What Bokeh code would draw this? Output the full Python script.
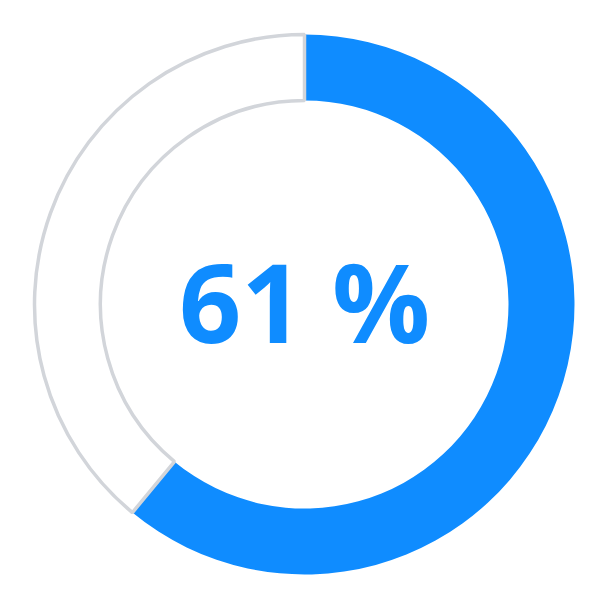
import math
from bokeh.plotting import figure
from bokeh.models import Range1d, ColumnDataSource
from bokeh.core.properties import value
from bokeh.embed import file_html
from bokeh.resources import INLINE

categories = ["Done", "Remaining"]
values = [61, 39]
colors = ["#0f8cff", "#ffffff"]
label = "61 %"

total = sum(values)
starts, ends = [], []
a = math.pi / 2
for v in values:
    span = 2 * math.pi * v / total
    # clockwise from top
    ends.append(a)
    starts.append(a - span)
    a -= span

W = 592
p = figure(width=W, height=W, output_backend="svg", toolbar_location=None,
           x_range=Range1d(-304, W - 304), y_range=Range1d(304 - W, 304),
           min_border=0, outline_line_color=None)
p.axis.visible = False
p.grid.visible = False
p.background_fill_color = "white"
p.border_fill_color = "white"

src_blue = ColumnDataSource(dict(start=[starts[0]], end=[ends[0]], color=[colors[0]]))
src_rest = ColumnDataSource(dict(start=[starts[1]], end=[ends[1]], color=[colors[1]]))

p.annular_wedge(x=0, y=0, inner_radius=204, outer_radius=270, start_angle="start",
                end_angle="end", fill_color="color", line_color=None, source=src_blue)
p.annular_wedge(x=0, y=0, inner_radius=204, outer_radius=270, start_angle="start",
                end_angle="end", fill_color="color", line_color="#d2d5da", line_width=3.5,
                source=src_rest)

p.text(x=[0], y=[4], text=[label], text_align="center", text_baseline="middle",
       text_font=value("Open Sans"), text_font_style="bold", text_font_size="109px",
       text_color=colors[0])

open("out.html", "w").write(file_html(p, INLINE))
